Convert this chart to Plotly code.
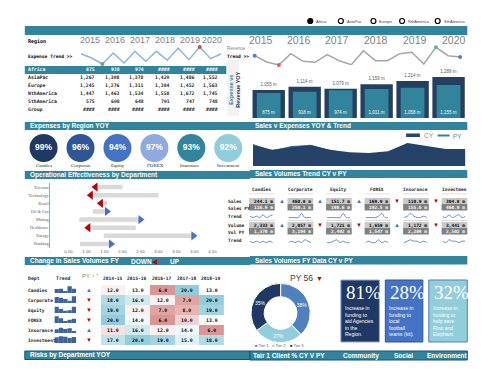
import plotly.graph_objects as go

W, H = 488, 378
TEAL = "#31849b"
NAVY = "#243f60"
SANS = "Liberation Sans"
MONO = "DejaVu Sans Mono"
SERIF = "Liberation Serif"
GRAY = "#7f7f7f"

# ---------------- data ----------------
years = ["2015", "2016", "2017", "2018", "2019", "2020"]
legend_regions = ["Africa", "AsiaPac", "Europe", "NthAmerica", "SthAmerica"]
region_names = ["Africa", "AsiaPac", "Europe", "NthAmerica", "SthAmerica", "Group"]
africa_row = ["875", "918", "974", "####", "####", "####"]
asiapac_row = ["1,267", "1,308", "1,378", "1,420", "1,486", "1,552"]
europe_row = ["1,245", "1,276", "1,311", "1,384", "1,452", "1,563"]
nthamerica_row = ["1,447", "1,463", "1,534", "1,558", "1,672", "1,745"]
sthamerica_row = ["575", "608", "648", "701", "747", "748"]
group_row = ["####", "####", "####", "####", "####", "####"]

expense_trend = [1143, 1100, 1040, 1150, 1050, 1167, 1067, 1167, 1077, 1200, 1083, 1210, 1093, 1143]
revenue_trend = [1123, 1060, 1030, 1143, 1067, 1057, 1133, 1073, 1033, 1173, 1073, 1073,
                 1143, 1157, 1040, 1207, 1123, 1110]

revenue_yoy = [1055, 1114, 1079, 1159, 1214, 1289]
expense_yoy = [875, 918, 974, 1011, 1058, 1155]

sales_cy = [1035, 815, 935, 1035, 815, 685, 650, 735, 1150, 985, 850, 850]
sales_py = [1100, 785, 1000, 1060, 785, 615, 615, 685, 900, 815, 785, 785]

depts = ["Candies", "Corporate", "Equity", "FOREX", "Insurance", "Investment"]
expense_pct = [99, 96, 94, 97, 93, 92]

ops_depts = ["Telecom", "Technology", "Retail", "Oil & Gas", "Mining", "Healthcare", "Energy", "Banking"]
ops_cy = [1.25, 1.12, 1.40, 1.57, 2.50, 1.05, 3.97, 1.68]
ops_py = [2.00, 3.00, 1.57, 1.18, 0.80, 2.37, 1.48, 0.82]
ops_ticks = [0, 0.5, 1.0, 1.5, 2.0, 2.5, 3.0, 3.5, 4.0, 4.5]
ops_ticktext = ["-", "0.50", "1.00", "1.50", "2.00", "2.50", "3.00", "3.50", "4.00", "4.50"]

card_sales = ["244.1 m", "460.8 m", "151.7 m", "169.9 m", "110.9 m", "304.8 m"]
card_sales_py = ["116.9 m", "250.1 m", "190.6 m", "192.5 m", "155.6 m", "460.9 m"]
card_volume = ["2,333 m", "2,057 m", "1,721 m", "1,659 m", "1,172 m", "3,441 m"]
card_volume_py = ["1,370 m", "3,194 m", "2,492 m", "1,547 m", "2,289 m", "2,502 m"]
sales_dir = ["up", "up", "up", "down", "down"]
volume_dir = ["up", "down", "down", "up", "down"]
sales_spark = [
    [3, 2, 3, 2, 4, 2, 3, 4],
    [2, 2, 2, 2, 5, 2, 2, 2],
    [2, 2, 2, 2, 2, 5, 2, 2],
    [2, 2, 2, 2, 3, 5, 2, 2],
    [2, 3, 5, 3, 2, 2, 3, 2],
    [3, 2, 4, 2, 3, 4, 2, 3],
]
volume_spark = [
    [3, 2, 3, 2, 3, 2, 3, 2],
    [2, 3, 2, 3, 2, 4, 3, 2],
    [2, 2, 3, 4, 2, 3, 2, 2],
    [2, 3, 2, 2, 4, 2, 3, 2],
    [2, 3, 4, 3, 3, 2, 3, 2],
    [3, 2, 4, 3, 3, 2, 3, 3],
]
sales_row_labels = ["Sales", "Sales PY", "Trend", "Volume", "Vol PY", "Trend"]

hm_cols = ["2014-15", "2015-16", "2016-17", "2017-18", "2018-19"]
hm_values = [
    [12, 13, 6, 20, 13],
    [18, 16, 12, 7, 20],
    [19, 12, 7, 8, 19],
    [20, 14, 6, 10, 13],
    [11, 16, 12, 14, 6],
    [17, 20, 19, 15, 18],
]
hm_py_dir = ["up", "down", "down", "down", "up", "down"]

tier_labels = ["Tier 1", "Tier 2", "Tier 3"]
tier_values = [38, 27, 35]
tier_py = 56

funding_pct = [81, 28, 32]
funding_text = [
    "Increase in<br>funding to<br>aid Agencies<br>in the<br>Region.",
    "Increase in<br>funding to<br>local<br>football<br>teams (kit).",
    "Increase in<br>funding to<br>help save<br>Rino and<br>Elephant.",
]
funding_titles = ["Community", "Social", "Environment"]

# ---------------- helpers ----------------
shapes, annotations, traces = [], [], []
layout_axes = {}
n_ax = [0]


def X(px):
    return px / W


def Y(py):
    return 1 - py / H


def rect(x0, y0, x1, y1, fill, line=None, lw=0, layer="below"):
    shapes.append(dict(type="rect", xref="paper", yref="paper", x0=X(x0), x1=X(x1),
                       y0=Y(y1), y1=Y(y0), fillcolor=fill,
                       line=dict(color=line or fill, width=lw), layer=layer))


def text(x, y, s, size=6, color="#000", bold=False, xanchor="left", family=SANS,
         yanchor="middle", **kw):
    annotations.append(dict(xref="paper", yref="paper", x=X(x), y=Y(y),
                            text=f"<b>{s}</b>" if bold else s, showarrow=False,
                            font=dict(size=size, color=color, family=family),
                            xanchor=xanchor, yanchor=yanchor, borderpad=0, **kw))


def axes(x0, x1, y0, y1, xr=None, yr=None):
    n_ax[0] += 1
    n = n_ax[0]
    s = "" if n == 1 else str(n)
    layout_axes[f"xaxis{s}"] = dict(domain=[X(x0), X(x1)], anchor=f"y{s}", range=xr,
                                    visible=False, fixedrange=True)
    layout_axes[f"yaxis{s}"] = dict(domain=[Y(y1), Y(y0)], anchor=f"x{s}", range=yr,
                                    visible=False, fixedrange=True)
    return f"x{s}", f"y{s}"


def header(x0, x1, y0, y1, label, size=6.5):
    rect(x0, y0, x1, y1, TEAL)
    text(x0 + 4, (y0 + y1) / 2, label, size=size, color="white", bold=True)


# ---------------- top section ----------------
rect(16, 18, 464, 27, TEAL)
leg_x = [305, 336, 369, 398, 434]
for i, name in enumerate(legend_regions):
    cx = leg_x[i]
    shapes.append(dict(type="circle", xref="paper", yref="paper",
                       x0=X(cx - 2.5), x1=X(cx + 2.5), y0=Y(15.5), y1=Y(10.5),
                       fillcolor="black" if i == 0 else "white",
                       line=dict(color="black", width=1.2)))
    text(cx + 5, 13, name, size=4, color="#404040")

text(18, 33, "Region", size=5, bold=True, family=MONO)
left_year_x = [82, 107, 133, 158, 183, 206]
for i, yv in enumerate(years):
    text(left_year_x[i], 32, yv, size=9, color=GRAY, xanchor="center")
right_year_x = [255, 294, 332, 372, 411, 451]
for i, yv in enumerate(years):
    text(right_year_x[i], 32, yv, size=10.5, color=GRAY, xanchor="center")

text(18, 48, "Expense Trend >>", size=4.6, bold=True, family=MONO)
text(220, 40, "Revenue", size=4.6, color=GRAY)
text(220, 48, "Trend >>", size=4.6, bold=True, family=MONO)

# expense trend sparkline
xa, ya = axes(72.7, 215, 36, 57, xr=[0, len(expense_trend) - 1], yr=[1030, 1240])
traces.append(go.Scatter(x=list(range(len(expense_trend))), y=expense_trend, mode="lines",
                         line=dict(color="#95b3d7", width=1.5), xaxis=xa, yaxis=ya,
                         cliponaxis=False))
imin = expense_trend.index(min(expense_trend))
imax = expense_trend.index(max(expense_trend))
traces.append(go.Scatter(x=[imin, imax], y=[expense_trend[imin], expense_trend[imax]],
                         mode="markers", marker=dict(color=["#70ad47", "#c0504d"], size=4),
                         xaxis=xa, yaxis=ya, cliponaxis=False))

# revenue trend line
xa, ya = axes(248.7, 456.7, 36, 57, xr=[0, len(revenue_trend) - 1], yr=[1030, 1240])
traces.append(go.Scatter(x=list(range(len(revenue_trend))), y=revenue_trend, mode="lines",
                         line=dict(color="#a6a6a6", width=1.5), xaxis=xa, yaxis=ya,
                         cliponaxis=False))
rmin = revenue_trend.index(min(revenue_trend))
rmax = revenue_trend.index(max(revenue_trend))
last = len(revenue_trend) - 1
traces.append(go.Scatter(x=[0, rmin, rmax, last],
                         y=[revenue_trend[0], revenue_trend[rmin], revenue_trend[rmax], revenue_trend[last]],
                         mode="markers",
                         marker=dict(color=["#4f81bd", "#ff5050", "#5fbf7f", "#4f81bd"], size=4),
                         xaxis=xa, yaxis=ya, cliponaxis=False))

# region table
rect(16, 58, 220, 66, TEAL)
row_y = [62, 70, 78, 86, 94, 102]
rows = [africa_row, asiapac_row, europe_row, nthamerica_row, sthamerica_row, group_row]
col_right = [88, 113, 138, 164, 189, 213]
for r, (name, vals) in enumerate(zip(region_names, rows)):
    col = "white" if r == 0 else "#262626"
    text(18, row_y[r], name, size=4.8, bold=True, family=MONO, color=col)
    for c, v in enumerate(vals):
        text(col_right[c], row_y[r], v, size=4.8, bold=True, family=MONO, color=col,
             xanchor="right")

rect(221, 52, 233, 108, "#f2f2f2")
text(227.5, 82, "<span style='color:#31849b'>Expense vs</span><br>"
     "<span style='color:#1f3864'>Revenue YOY</span>",
     size=5.5, bold=True, xanchor="center", textangle=-90)

# revenue/expense bars
xa, ya = axes(244.75, 463.25, 62, 110, xr=[-0.5, 5.5], yr=[551, 1414])
traces.append(go.Bar(x=list(range(6)), y=revenue_yoy, width=0.9,
                     marker=dict(color=NAVY, line=dict(width=0)),
                     text=[f"{v:,} m" for v in revenue_yoy], textposition="outside",
                     textfont=dict(size=4.5, color="#595959"), cliponaxis=False,
                     constraintext="none", xaxis=xa, yaxis=ya))
xa, ya = axes(244.75, 463.25, 62, 110, xr=[-0.5, 5.5], yr=[0, 1680])
traces.append(go.Bar(x=list(range(6)), y=expense_yoy, width=0.66,
                     marker=dict(color=TEAL, line=dict(width=0)),
                     text=[f"{v:,} m" for v in expense_yoy], textposition="inside",
                     insidetextanchor="start", textangle=0,
                     textfont=dict(size=4.5, color="white"),
                     constraintext="none", xaxis=xa, yaxis=ya))

# ---------------- second section ----------------
header(16, 244, 114, 122, "Expenses by Region YOY")
header(244, 464, 114, 122, "Sales v Expenses YOY & Trend")

xa, ya = axes(16.3, 240.7, 126, 154, xr=[-0.5, 5.5], yr=[0, 1])
circle_colors = ["#1f3864", "#2f5597", "#4472c4", "#8faadc", "#31849b", "#92cddc"]
traces.append(go.Scatter(x=list(range(6)), y=[0.5] * 6, mode="markers+text",
                         marker=dict(size=28, color=circle_colors, line=dict(width=0)),
                         text=[f"<b>{p}%</b>" for p in expense_pct], textposition="middle center",
                         textfont=dict(size=8.5, color="white", family=SANS),
                         xaxis=xa, yaxis=ya, cliponaxis=False))
circle_x = [35, 73, 110, 148, 183, 222]
for i, d in enumerate(depts):
    text(circle_x[i], 158, d, size=5, family=SERIF, xanchor="center", color="#262626")

# area chart
rect(402, 125.5, 416, 129, "#27466d")
text(419, 127, "CY", size=6.5, color=GRAY)
shapes.append(dict(type="line", xref="paper", yref="paper", x0=X(434), x1=X(446),
                   y0=Y(127.5), y1=Y(127.5), line=dict(color=TEAL, width=2)))
text(449, 128, "PY", size=6.5, color=GRAY)
xa, ya = axes(247, 462, 127, 158, xr=[0, len(sales_cy) - 1], yr=[0, 1550])
traces.append(go.Scatter(x=list(range(len(sales_py))), y=sales_py, fill="tozeroy", mode="lines",
                         line=dict(width=0, color="#3a6f90"), fillcolor="#3a6f90",
                         xaxis=xa, yaxis=ya))
traces.append(go.Scatter(x=list(range(len(sales_cy))), y=sales_cy, fill="tozeroy", mode="lines",
                         line=dict(width=0, color="#254368"), fillcolor="#254368",
                         xaxis=xa, yaxis=ya))

# ---------------- third section ----------------
header(16, 244, 163, 171, "Operational Effectiveness by Department")
header(244, 464, 162, 170, "Sales Volumes Trend CY v PY")

n_ax[0] += 1
s = str(n_ax[0])
layout_axes[f"xaxis{s}"] = dict(domain=[X(42), X(206)], anchor=f"y{s}", range=[0, 4.5],
                                tickvals=ops_ticks, ticktext=ops_ticktext, showgrid=False,
                                zeroline=False, showline=False, ticks="",
                                tickfont=dict(size=4.3, color="#595959"), fixedrange=True)
layout_axes[f"yaxis{s}"] = dict(domain=[Y(240), Y(175)], anchor=f"x{s}", range=[7.5, -0.5],
                                tickvals=list(range(8)), ticktext=ops_depts, showgrid=False,
                                zeroline=False, showline=True, linecolor="#a6a6a6",
                                linewidth=1, ticks="",
                                tickfont=dict(size=4.3, color="#595959", family=SERIF),
                                fixedrange=True)
traces.append(go.Bar(y=list(range(8)), x=[abs(c - p) for c, p in zip(ops_cy, ops_py)],
                     base=[min(c, p) for c, p in zip(ops_cy, ops_py)], orientation="h",
                     width=0.55, marker=dict(color="#d9d9d9", line=dict(width=0)),
                     xaxis="x" + s, yaxis="y" + s))
traces.append(go.Scatter(x=ops_cy, y=list(range(8)), mode="markers",
                         marker=dict(symbol=["triangle-left" if c < p else "triangle-right"
                                             for c, p in zip(ops_cy, ops_py)],
                                     color=["#c00000" if c < p else "#4472c4"
                                            for c, p in zip(ops_cy, ops_py)],
                                     size=8, line=dict(width=0)),
                         xaxis="x" + s, yaxis="y" + s, cliponaxis=False))

# sales volume cards
label_y = [193, 200, 208, 217, 224, 232]
for lab, yy in zip(sales_row_labels, label_y):
    text(221, yy, lab, size=4.5, bold=True, family=MONO, color="#262626")
card_left = [243, 282, 321, 360, 399, 438]
for i, d in enumerate(depts):
    L = card_left[i]
    text(L + 13, 182, d[:9], size=4.5, bold=True, family=MONO, xanchor="center", color="#262626")
    rect(L, 185.5, L + 26, 186.3, "#d9d9d9")
    rect(L, 190, L + 26, 196, "#c9c9c9")
    rect(L, 196, L + 26, 202.5, "#808080")
    text(L + 25, 193, card_sales[i], size=4.5, bold=True, family=MONO, xanchor="right")
    text(L + 25, 199.3, card_sales_py[i], size=4.5, bold=True, family=MONO, xanchor="right",
         color="white")
    rect(L, 214, L + 26, 220, "#c9c9c9")
    rect(L, 220, L + 26, 226.5, "#808080")
    text(L + 25, 217, card_volume[i], size=4.5, bold=True, family=MONO, xanchor="right")
    text(L + 25, 223.3, card_volume_py[i], size=4.5, bold=True, family=MONO, xanchor="right",
         color="white")
    rect(L, 212, L + 26, 213, "#d9d9d9")
    xa, ya = axes(L + 1, L + 24, 204, 211, xr=[0, 7], yr=[1, 6])
    traces.append(go.Scatter(x=list(range(8)), y=sales_spark[i], mode="lines",
                             line=dict(color="#4472c4", width=0.8, shape="spline"),
                             xaxis=xa, yaxis=ya))
    xa, ya = axes(L + 1, L + 24, 229, 236, xr=[0, 7], yr=[1, 6])
    traces.append(go.Scatter(x=list(range(8)), y=volume_spark[i], mode="lines",
                             line=dict(color="#4472c4", width=0.8, shape="spline"),
                             xaxis=xa, yaxis=ya))
for i in range(5):
    tx = card_left[i] + 33
    for dirs, yy in ((sales_dir, 193), (volume_dir, 217)):
        up = dirs[i] == "up"
        text(tx, yy, "▲" if up else "▼", size=6, color="#4472c4" if up else "#c00000",
             xanchor="center")

# ---------------- fourth section ----------------
rect(16, 249, 244, 257, TEAL)
text(20, 253, "Change in Sales Volumes FY", size=6.5, color="white", bold=True)
text(122, 253, "DOWN", size=6.5, color="white", bold=True)
text(148, 253, "◀", size=7, color="#c00000", xanchor="center")
text(156, 253, "▶", size=7, color="#4472c4", xanchor="center")
text(162, 253, "UP", size=6.5, color="white", bold=True)
header(244, 464, 248, 256.5, "Sales Volumes FY Data CY v PY")

text(18, 270, "Dept", size=4.8, bold=True, family=MONO, color="#262626")
text(47, 270, "Trend", size=4.8, bold=True, family=MONO, color="#262626")
text(73, 268, "PY", size=6, color=GRAY)
text(83, 267, "↓", size=5, color="#c00000")
text(87, 267, "↑", size=5, color="#4472c4")
hm_x = [105, 130, 155, 180, 205]
for i, c in enumerate(hm_cols):
    text(hm_x[i], 270, c, size=4.6, bold=True, family=MONO, xanchor="center", color="#262626")

xa, ya = axes(93, 218, 277, 337, xr=[-0.5, 4.5], yr=[5.5, -0.5])
traces.append(go.Heatmap(z=hm_values, x=list(range(5)), y=list(range(6)),
                         colorscale=[[0, "#da9694"], [0.5, "#ffffff"], [1, "#92cddc"]],
                         zmin=6, zmax=20, showscale=False,
                         texttemplate="<b>%{z:.1f}</b>",
                         textfont=dict(size=4.8, color="black", family=MONO),
                         xaxis=xa, yaxis=ya))
for r, d in enumerate(depts):
    cy = 282 + 10 * r
    text(18, cy, d, size=4.6, bold=True, family=MONO, color="#262626")
    xa, ya = axes(46, 68, cy - 4, cy + 3, xr=[-0.5, 4.5], yr=[0, 21])
    traces.append(go.Bar(x=list(range(5)), y=hm_values[r], width=1.0,
                         marker=dict(color="#3c64a0", line=dict(width=0)),
                         xaxis=xa, yaxis=ya))
    up = hm_py_dir[r] == "up"
    text(81, cy, "▲" if up else "▼", size=6, color="#4472c4" if up else "#c00000",
         xanchor="center")

# donut
traces.append(go.Pie(labels=tier_labels, values=tier_values, hole=0.55, sort=False,
                     direction="clockwise", rotation=0,
                     marker=dict(colors=["#4f81bd", "#92cddc", "#1f3864"],
                                 line=dict(color="white", width=1)),
                     text=[f"{v}%" for v in tier_values], textinfo="text",
                     textfont=dict(size=5, color="white"), insidetextorientation="horizontal",
                     domain=dict(x=[X(245), X(305)], y=[Y(335), Y(275)]),
                     showlegend=False))
text(296, 270, f"PY {tier_py}", size=8.5, color="#404040", xanchor="center")
text(314, 270, "▼", size=7, color="#c00000", xanchor="center")
tier_leg_x = [248, 265, 283]
tier_cols = ["#4f81bd", "#92cddc", "#1f3864"]
for i, t in enumerate(tier_labels):
    text(tier_leg_x[i], 337, f"<span style='color:{tier_cols[i]}'>■</span> {t}", size=4,
         color="#595959")

# funding boxes
box_x = [(336, 375), (381, 419), (425, 464)]
box_fill = ["#1f3864", "#4472c4", "#92cddc"]
box_line = ["#8faadc", "#2f5597", "#4f81bd"]
for i in range(3):
    x0, x1 = box_x[i]
    rect(x0, 272, x1, 334, box_fill[i], line=box_line[i], lw=1)
    text(x0 + 4, 284, f"{funding_pct[i]}%", size=19, color="white", family=SERIF)
    text(x0 + 3, 296, funding_text[i], size=5, color="white", yanchor="top", align="left")

# bottom headers
rect(16, 343, 244, 351.5, TEAL, line="#1f4e79", lw=1)
text(20, 347.3, "Risks by Department YOY", size=6.5, color="white", bold=True)
rect(244, 343, 464, 352, TEAL, line="#1f4e79", lw=1)
text(246, 347.5, "Tair 1 Client % CY V PY", size=6.5, color="white", bold=True)
title_x = [356, 399, 444]
for t, tx in zip(funding_titles, title_x):
    text(tx, 347.5, t, size=6.5, color="white", bold=True, xanchor="center")

fig = go.Figure(data=traces)
fig.update_layout(width=W, height=H, margin=dict(l=0, r=0, t=0, b=0),
                  paper_bgcolor="white", plot_bgcolor="rgba(0,0,0,0)",
                  showlegend=False, barmode="overlay",
                  font=dict(family=SANS), shapes=shapes, annotations=annotations,
                  **layout_axes)
fig.write_html("out.html")
